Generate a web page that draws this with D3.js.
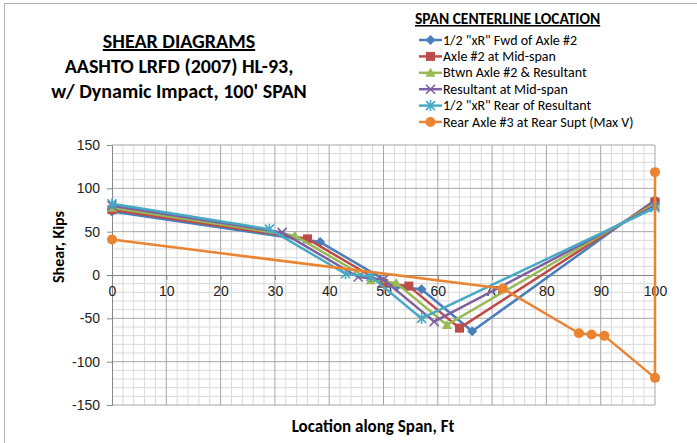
<!DOCTYPE html>
<html>
<head>
<meta charset="utf-8">
<script src="https://cdn.jsdelivr.net/npm/d3@7"></script>
<style>
  body { margin: 0; background: #fff; }
  svg { display: block; font-family: Carlito, Lato, 'Open Sans', sans-serif; }
  .tick text { fill: #222; font-size: 14px; }
</style>
</head>
<body>
<svg width="697" height="443"></svg>
<script>
// span locations (ft) and shear values (kips) for each truck position
const fwdAxle2X = [0, 38.33, 52.33, 57, 66.33, 100]
const fwdAxle2V = [73.2, 38.0, -13.5, -16.5, -65.0, 86.6]
const axle2MidX = [0, 36, 50, 54.67, 64, 100]
const axle2MidV = [75.4, 41.7, -9.8, -12.8, -61.3, 84.4]
const btwnX = [0, 33.67, 47.67, 52.33, 61.67, 100]
const btwnV = [77.6, 45.4, -6.1, -9.1, -57.6, 82.2]
const resultMidX = [0, 31.33, 45.33, 50, 59.33, 100]
const resultMidV = [79.9, 49.2, -2.3, -5.3, -53.8, 79.9]
const rearResultX = [0, 29, 43, 47.67, 57, 100]
const rearResultV = [82.1, 52.9, 1.4, -1.6, -50.1, 77.6]
const rearAxle3X = [0, 72, 86, 88.33, 90.67, 100, 100]
const rearAxle3V = [40.9, -15.7, -67.2, -68.7, -70.2, -118.7, 118.7]

const seriesNames = [
  '1/2 "xR" Fwd of Axle #2',
  'Axle #2 at Mid-span',
  'Btwn Axle #2 & Resultant',
  'Resultant at Mid-span',
  '1/2 "xR" Rear of Resultant',
  'Rear Axle #3 at Rear Supt (Max V)'
]
const xTicks = [0, 10, 20, 30, 40, 50, 60, 70, 80, 90, 100]
const yTicks = [-150, -100, -50, 0, 50, 100, 150]

const colors = ['#4a7ebb', '#be4b48', '#98b954', '#7d60a0', '#46aac5', '#ea8430']
const markers = ['diamond', 'square', 'triangle', 'x', 'star', 'circle']

const series = [
  [fwdAxle2X, fwdAxle2V], [axle2MidX, axle2MidV], [btwnX, btwnV],
  [resultMidX, resultMidV], [rearResultX, rearResultV], [rearAxle3X, rearAxle3V]
].map(([xs, vs], i) => ({
  name: seriesNames[i],
  color: colors[i],
  marker: markers[i],
  points: xs.map((x, j) => ({ x, v: vs[j] }))
}))

const svg = d3.select('svg')
const x = d3.scaleLinear().domain([0, 100]).range([112, 655])
const y = d3.scaleLinear().domain([-150, 150]).range([405, 145])

// chart border
svg.append('rect')
  .attr('x', 4.5).attr('y', 3.5).attr('width', 800).attr('height', 800)
  .attr('fill', 'none').attr('stroke', '#b3b3b3')

// gridlines
const grid = svg.append('g')
grid.selectAll('.vminor')
  .data(d3.range(0, 101, 2).filter(d => d % 10))
  .enter().append('line')
  .attr('x1', d => x(d)).attr('x2', d => x(d))
  .attr('y1', y(150)).attr('y2', y(-150))
  .attr('stroke', '#d9d9d9')
grid.selectAll('.hminor')
  .data(d3.range(-150, 151, 10).filter(d => d % 50))
  .enter().append('line')
  .attr('x1', x(0)).attr('x2', x(100))
  .attr('y1', d => y(d)).attr('y2', d => y(d))
  .attr('stroke', '#d9d9d9')
grid.selectAll('.vmajor')
  .data(xTicks.filter(d => d > 0))
  .enter().append('line')
  .attr('x1', d => x(d)).attr('x2', d => x(d))
  .attr('y1', y(150)).attr('y2', y(-150))
  .attr('stroke', '#a6a6a6')
grid.selectAll('.hmajor')
  .data(yTicks.filter(d => d !== 0))
  .enter().append('line')
  .attr('x1', x(0)).attr('x2', x(100))
  .attr('y1', d => y(d)).attr('y2', d => y(d))
  .attr('stroke', '#a6a6a6')

// axes (plain hyphen for negatives, like the spreadsheet)
const yAxis = svg.append('g')
  .attr('transform', `translate(${x(0)},0)`)
  .call(d3.axisLeft(y).tickValues(yTicks).tickFormat(d => String(d)).tickSize(5).tickPadding(7))
yAxis.select('.domain').attr('stroke', '#868686')
yAxis.selectAll('.tick line').attr('stroke', '#868686')

const xAxis = svg.append('g')
  .attr('transform', `translate(0,${y(0)})`)
  .call(d3.axisBottom(x).tickValues(xTicks).tickFormat(d => String(d)).tickSize(5).tickSizeOuter(0).tickPadding(6))
xAxis.select('.domain').attr('stroke', '#868686')
xAxis.selectAll('.tick line').attr('stroke', '#868686')

// marker shapes
function drawMarker (g, type, color) {
  if (type === 'diamond') {
    g.append('path').attr('d', 'M0,-5L5,0L0,5L-5,0Z').attr('fill', color)
  } else if (type === 'square') {
    g.append('rect').attr('x', -4.5).attr('y', -4.5).attr('width', 9).attr('height', 9).attr('fill', color)
  } else if (type === 'triangle') {
    g.append('path').attr('d', 'M0,-5L5,4L-5,4Z').attr('fill', color)
  } else if (type === 'x') {
    g.append('path').attr('d', 'M-4.5,-4.5L4.5,4.5M-4.5,4.5L4.5,-4.5').attr('stroke', color).attr('stroke-width', 1.6)
  } else if (type === 'star') {
    g.append('path').attr('d', 'M-4.5,-4.5L4.5,4.5M-4.5,4.5L4.5,-4.5M0,-5.5L0,5.5').attr('stroke', color).attr('stroke-width', 1.6)
  } else {
    g.append('circle').attr('r', 5).attr('fill', color)
  }
}

const line = d3.line().x(d => x(d.x)).y(d => y(d.v))

series.forEach(s => {
  const g = svg.append('g')
  g.append('path')
    .attr('d', line(s.points))
    .attr('fill', 'none')
    .attr('stroke', s.color)
    .attr('stroke-width', 2.5)
    .attr('stroke-linejoin', 'round')
  s.points.forEach(p => {
    const m = g.append('g').attr('transform', `translate(${x(p.x)},${y(p.v)})`)
    drawMarker(m, s.marker, s.color)
  })
})

// axis titles
svg.append('text')
  .attr('transform', 'translate(64,247) rotate(-90)')
  .attr('text-anchor', 'middle')
  .attr('font-size', 16).attr('font-weight', 'bold')
  .text('Shear, Kips')
svg.append('text')
  .attr('x', 373).attr('y', 432)
  .attr('text-anchor', 'middle')
  .attr('font-size', 17).attr('font-weight', 'bold')
  .text('Location along Span, Ft')

// chart title
const title = svg.append('g').attr('font-weight', 'bold').attr('text-anchor', 'middle')
title.append('text').attr('x', 179).attr('y', 48).attr('font-size', 20)
  .attr('text-decoration', 'underline').text('SHEAR DIAGRAMS')
title.append('text').attr('x', 179).attr('y', 73).attr('font-size', 20)
  .text('AASHTO LRFD (2007) HL-93,')
title.append('text').attr('x', 179).attr('y', 98).attr('font-size', 20)
  .text("w/ Dynamic Impact, 100' SPAN")

// legend
const legend = svg.append('g')
legend.append('text')
  .attr('x', 415).attr('y', 24)
  .attr('font-size', 15.5).attr('font-weight', 'bold')
  .attr('text-decoration', 'underline')
  .text('SPAN CENTERLINE LOCATION')
series.forEach((s, i) => {
  const ly = 40 + i * 16.4
  const g = legend.append('g')
  g.append('line')
    .attr('x1', 419).attr('x2', 442).attr('y1', ly).attr('y2', ly)
    .attr('stroke', s.color).attr('stroke-width', 2.5)
  drawMarker(g.append('g').attr('transform', `translate(430.5,${ly})`), s.marker, s.color)
  g.append('text')
    .attr('x', 443).attr('y', ly + 4.5)
    .attr('font-size', 14)
    .text(s.name)
})
</script>
</body>
</html>
